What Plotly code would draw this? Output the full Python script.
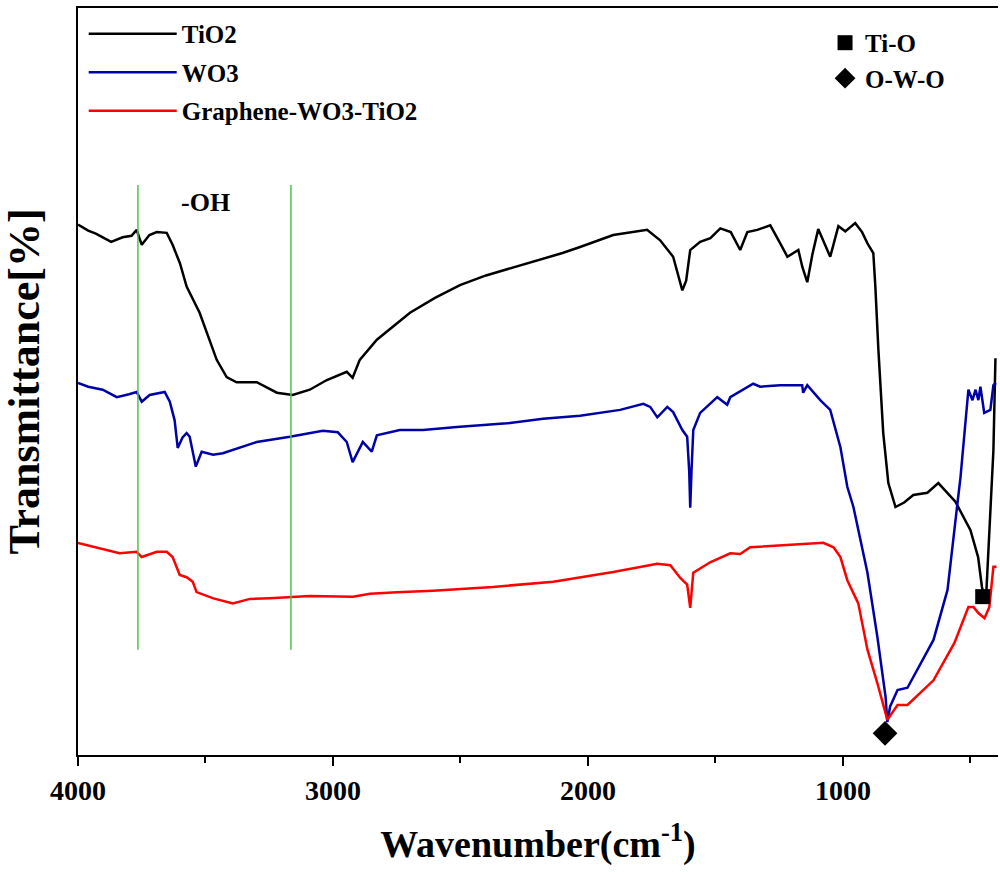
import plotly.graph_objects as go

# ---------------- data ----------------
tio2_wn = [4000, 3960, 3930, 3903, 3870, 3825, 3790, 3770, 3750, 3720, 3691, 3652, 3629, 3600, 3574,
           3523, 3456, 3417, 3378, 3299, 3220, 3158, 3091, 3024, 2946, 2923, 2895, 2828, 2698, 2600,
           2502, 2400, 2300, 2200, 2100, 2031, 1901, 1768, 1717, 1666, 1645, 1630, 1615, 1599, 1560,
           1520, 1481, 1440, 1403, 1375, 1336, 1285, 1246, 1218, 1175, 1159, 1140, 1120, 1097, 1050,
           1018, 991, 952, 925, 904, 881, 873, 861, 842, 822, 794, 760, 724, 669, 626, 559, 500, 470,
           455, 447, 438, 422, 410, 402]
tio2_t = [71.0, 70.2, 69.8, 69.3, 68.7, 69.3, 69.5, 70.3, 68.3, 69.6, 70.0, 69.9, 68.3, 65.8, 62.7,
          59.2, 52.9, 50.6, 49.9, 49.9, 48.5, 48.2, 48.9, 50.2, 51.3, 50.5, 52.9, 55.6, 59.2, 61.2,
          62.9, 64.2, 65.2, 66.2, 67.2, 68.0, 69.6, 70.3, 68.9, 66.7, 64.0, 62.2, 63.5, 67.6, 68.7,
          69.2, 70.5, 70.0, 67.6, 70.0, 70.3, 70.9, 68.5, 66.7, 67.6, 65.3, 63.3, 67.0, 70.4, 66.7,
          70.8, 70.1, 71.2, 70.0, 68.5, 67.2, 62.7, 54.2, 43.1, 36.4, 33.2, 33.8, 34.8, 35.1, 36.4,
          33.9, 30.1, 26.5, 22.5, 21.3, 21.6, 31.9, 40.8, 53.1]

wo3_wn = [4000, 3960, 3903, 3848, 3800, 3770, 3750, 3719, 3660, 3640, 3621, 3609, 3590, 3574, 3562,
          3538, 3515, 3470, 3432, 3299, 3169, 3040, 2981, 2946, 2923, 2883, 2848, 2828, 2738, 2647,
          2514, 2318, 2176, 2031, 1874, 1783, 1756, 1728, 1689, 1666, 1630, 1611, 1603, 1599, 1594,
          1587, 1560, 1493, 1454, 1442, 1352, 1325, 1246, 1160, 1156, 1140, 1089, 1050, 1010, 983,
          959, 904, 865, 833, 826, 815, 786, 747, 645, 590, 551, 539, 519, 508, 492, 480, 469, 461,
          446, 422, 410, 400]
wo3_t = [49.8, 49.3, 48.9, 47.9, 48.3, 48.6, 47.3, 48.2, 48.6, 47.3, 44.8, 41.1, 42.5, 43.1, 42.6,
         38.6, 40.6, 40.2, 40.4, 41.9, 42.6, 43.4, 43.2, 41.9, 39.2, 41.9, 40.6, 42.8, 43.5, 43.5,
         43.9, 44.4, 45.0, 45.4, 46.2, 47.0, 46.6, 45.2, 46.6, 45.9, 43.5, 42.6, 38.0, 33.1, 38.0,
         43.5, 45.8, 47.9, 46.9, 47.9, 49.7, 49.3, 49.5, 49.5, 48.5, 49.5, 47.5, 46.2, 41.2, 35.9,
         33.2, 24.4, 15.8, 7.8, 4.4, 6.5, 8.7, 9.0, 15.4, 22.1, 33.7, 37.2, 44.8, 48.9, 47.5, 48.9,
         47.5, 49.3, 45.8, 46.2, 49.5, 49.8]

gwt_wn = [4000, 3903, 3837, 3770, 3750, 3691, 3652, 3629, 3601, 3574, 3550, 3535, 3472, 3393, 3326,
          3248, 3169, 3091, 2922, 2855, 2749, 2608, 2372, 2136, 1901, 1728, 1677, 1638, 1611, 1599,
          1587, 1521, 1442, 1403, 1364, 1179, 1077, 1037, 1010, 983, 940, 904, 865, 826, 786, 747,
          645, 563, 508, 488, 469, 445, 426, 410, 398]
gwt_t = [28.4, 27.6, 27.0, 27.2, 26.5, 27.2, 27.2, 26.5, 24.1, 23.8, 23.2, 21.8, 21.0, 20.3, 20.9,
         21.0, 21.2, 21.3, 21.2, 21.6, 21.8, 22.0, 22.5, 23.2, 24.5, 25.6, 25.4, 23.7, 22.8, 19.7,
         24.4, 25.8, 27.0, 26.9, 27.8, 28.2, 28.4, 27.8, 26.5, 23.4, 20.3, 14.1, 9.6, 4.7, 6.7, 6.7,
         10.0, 15.0, 19.8, 19.8, 19.0, 18.3, 19.8, 25.2, 25.2]

tio_marker_wn = [452]
tio_marker_t = [21.2]
owo_marker_wn = [835]
owo_marker_t = [2.9]

oh_lines_wn = [3765, 3165]
oh_line_span = [14.1, 76.3]

tick_vals = [4000, 3000, 2000, 1000]
tick_text = ["4000", "3000", "2000", "1000"]

FONT = "Liberation Serif, Times New Roman, serif"

fig = go.Figure()

fig.add_trace(go.Scatter(x=tio2_wn, y=tio2_t, mode="lines", name="TiO2",
                         line=dict(color="#000000", width=2.5), legendgroup="a"))
fig.add_trace(go.Scatter(x=wo3_wn, y=wo3_t, mode="lines", name="WO3",
                         line=dict(color="#0000a8", width=2.5), legendgroup="b"))
fig.add_trace(go.Scatter(x=gwt_wn, y=gwt_t, mode="lines", name="Graphene-WO3-TiO2",
                         line=dict(color="#ff0000", width=2.5), legendgroup="c"))

# green -OH guide lines
gx, gy = [], []
for w in oh_lines_wn:
    gx += [w, w, None]
    gy += [oh_line_span[0], oh_line_span[1], None]
fig.add_trace(go.Scatter(x=gx, y=gy, mode="lines", showlegend=False,
                         line=dict(color="#52c152", width=1.5), hoverinfo="skip"))

fig.add_trace(go.Scatter(x=tio_marker_wn, y=tio_marker_t, mode="markers", name="Ti-O",
                         marker=dict(symbol="square", size=15, color="#000000"),
                         legend="legend2", legendgroup="d"))
fig.add_trace(go.Scatter(x=owo_marker_wn, y=owo_marker_t, mode="markers", name="O-W-O",
                         marker=dict(symbol="diamond", size=19, color="#000000"),
                         legend="legend2", legendgroup="e"))

fig.add_annotation(x=3500, y=74.0, text="<b>-OH</b>", showarrow=False,
                   font=dict(family=FONT, size=26, color="#000000"))

fig.update_layout(
    width=1000, height=872,
    margin=dict(l=78, r=2, t=8, b=117),
    paper_bgcolor="white", plot_bgcolor="white",
    font=dict(family=FONT, color="#000000"),
    legend=dict(x=0.0062, y=0.996, xanchor="left", yanchor="top",
                font=dict(family=FONT, size=25, color="#000000", weight="bold"),
                itemwidth=88, traceorder="grouped", tracegroupgap=3,
                bgcolor="rgba(0,0,0,0)", borderwidth=0),
    legend2=dict(x=0.812, y=0.984, xanchor="left", yanchor="top",
                 font=dict(family=FONT, size=25, color="#000000", weight="bold"),
                 itemsizing="trace", traceorder="grouped", tracegroupgap=0,
                 bgcolor="rgba(0,0,0,0)", borderwidth=0),
    xaxis=dict(range=[4000, 392], showgrid=False, zeroline=False,
               showline=True, linecolor="#000000", linewidth=2, mirror=True,
               ticks="outside", ticklen=9, tickwidth=2, tickcolor="#000000",
               tickvals=tick_vals, ticktext=tick_text,
               tickfont=dict(family=FONT, size=28, color="#000000", weight="bold"),
               minor=dict(dtick=500, tick0=0, ticks="outside", ticklen=6, tickwidth=2,
                          tickcolor="#000000"),
               title=dict(text="<b>Wavenumber(cm<sup>-1</sup>)</b>", standoff=26,
                          font=dict(family=FONT, size=38, color="#000000"))),
    yaxis=dict(range=[0, 100], showgrid=False, zeroline=False,
               showline=True, linecolor="#000000", linewidth=2, mirror=False,
               ticks="", showticklabels=False,
               title=dict(text="<b>Transmittance[%]</b>", standoff=26,
                          font=dict(family=FONT, size=44, color="#000000"))),
)

fig.write_html("out.html")
